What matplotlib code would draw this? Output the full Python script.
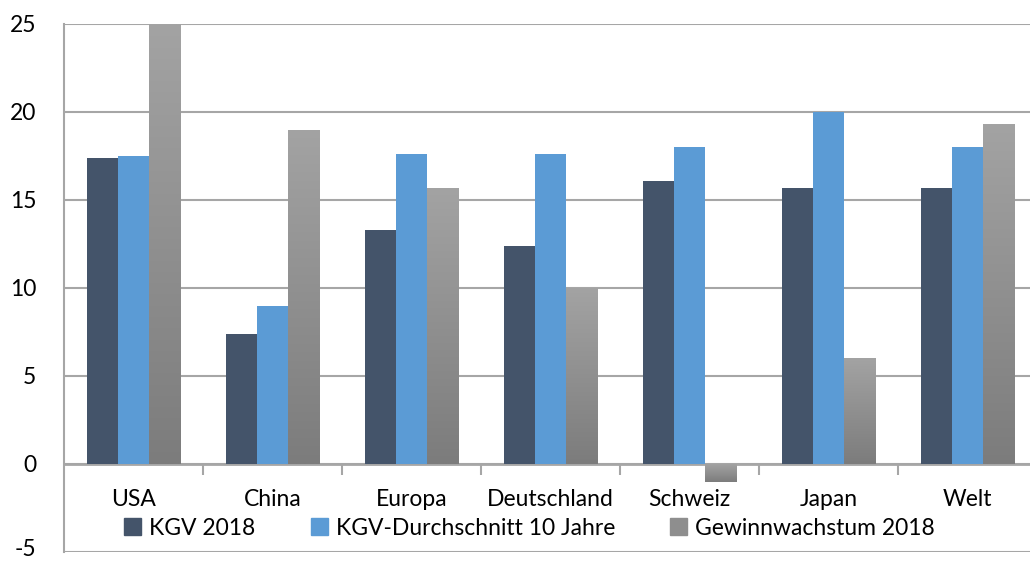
import matplotlib.pyplot as plt
import numpy as np
from matplotlib.patches import Patch
from matplotlib.transforms import ScaledTranslation

categories = ['USA', 'China', 'Europa', 'Deutschland', 'Schweiz', 'Japan', 'Welt']
kgv_2018 = [17.4, 7.4, 13.3, 12.4, 16.1, 15.7, 15.7]
kgv_10y = [17.5, 9.0, 17.6, 17.6, 18.0, 20.0, 18.0]
growth_2018 = [25.0, 19.0, 15.7, 10.0, -1.0, 6.0, 19.3]
series_names = ['KGV 2018', 'KGV-Durchschnitt 10 Jahre', 'Gewinnwachstum 2018']
y_ticks = [-5, 0, 5, 10, 15, 20, 25]

plt.rcParams['font.family'] = ['Lato', 'DejaVu Sans']

fig = plt.figure(figsize=(10.3, 5.61), dpi=100)
ax = fig.add_axes([64 / 1030, (561 - 552) / 561, 1 - 64 / 1030, 528 / 561])

x = np.arange(len(categories))
w = 0.225
dark = '#44546A'
blue = '#5B9BD5'

ax.bar(x - w, kgv_2018, w, color=dark, zorder=3)
ax.bar(x, kgv_10y, w, color=blue, zorder=3)

# gray bars with a vertical gradient
gray_bars = ax.bar(x + w, growth_2018, w, color='none', zorder=3)
grad = np.linspace(0, 1, 256).reshape(-1, 1)
cmap = plt.matplotlib.colors.LinearSegmentedColormap.from_list('g', ['#7C7C7C', '#A3A3A3'])
for b in gray_bars:
    x0, y0 = b.get_x(), b.get_y()
    h = b.get_height()
    bot, top = min(y0, y0 + h), max(y0, y0 + h)
    im = ax.imshow(grad, cmap=cmap, aspect='auto', origin='lower',
                   extent=[x0, x0 + b.get_width(), bot, top], zorder=3)
    im.set_clip_path(b)

ax.set_xlim(-0.5, 6.45)
ax.set_ylim(-5, 25)
ax.set_yticks(y_ticks)
ax.set_yticklabels([str(t) for t in y_ticks], fontsize=16.5)
ax.tick_params(axis='y', length=0, pad=20)
ax.set_xticks([])
ax.grid(axis='y', color='#A6A6A6', linewidth=1.5, zorder=0)
for s in ['top', 'right', 'bottom']:
    ax.spines[s].set_visible(False)
ax.spines['left'].set_color('#A6A6A6')
ax.spines['left'].set_linewidth(1.5)

# nudge the bottom label up so it stays inside the figure
lbl = ax.get_yticklabels()[0]
lbl.set_transform(lbl.get_transform() + ScaledTranslation(0, 4 / 100, fig.dpi_scale_trans))

# zero axis with tick marks between categories
ax.axhline(0, color='#A6A6A6', linewidth=2, zorder=2)
ax.vlines(x[:-1] + 0.5, -0.6, 0, color='#A6A6A6', linewidth=1.5, zorder=2)

for xi, c in zip(x, categories):
    ax.text(xi, -2.0, c, ha='center', va='center', fontsize=16.5)

handles = [Patch(color=dark), Patch(color=blue), Patch(color='#8E8E8E')]
ax.legend(handles, series_names, ncol=3, loc='center', bbox_to_anchor=(0.482, 0.045),
          frameon=False, fontsize=16.5, handlelength=0.75, handleheight=0.75,
          handletextpad=0.35, columnspacing=2.4, borderaxespad=0)

fig.savefig('out.png', dpi=100)
